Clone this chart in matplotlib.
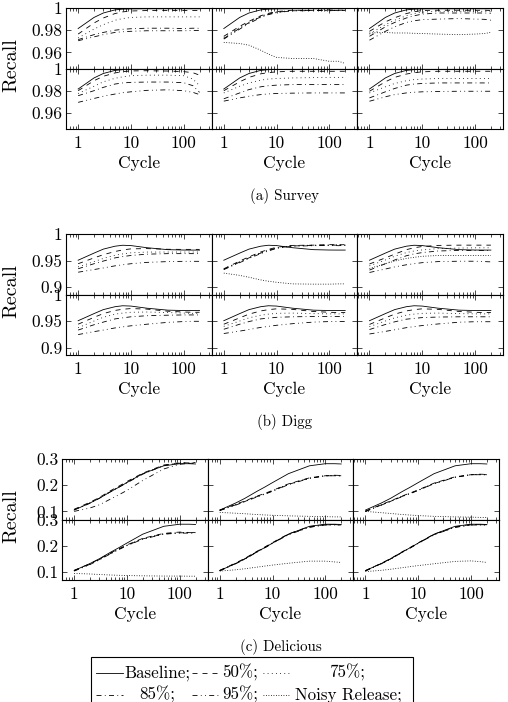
import numpy as np
import matplotlib
matplotlib.use("Agg")
import matplotlib.pyplot as plt
from matplotlib.ticker import FixedLocator, LogLocator, NullFormatter
from matplotlib.lines import Line2D
from matplotlib.patches import Rectangle

plt.rcParams['font.family'] = ['cmr10', 'DejaVu Serif']
plt.rcParams['mathtext.fontset'] = 'cm'
plt.rcParams['axes.formatter.use_mathtext'] = True
plt.rcParams['lines.scale_dashes'] = False

# ---------------- data ----------------
cycles = [1, 2, 3, 5, 7, 10, 20, 50, 100, 150, 200]
series_names = ["Baseline", "50%", "75%", "85%", "95%", "Noisy Release"]
captions = ["(a) Survey", "(b) Digg", "(c) Delicious"]

# panel order: top-left, top-middle, top-right, bottom-left, bottom-middle, bottom-right
survey_baseline = [0.9815, 0.9915, 0.9955, 0.9983, 0.9990, 0.9992, 0.9993, 0.9993, 0.9993, 0.9993, 0.9993]
survey_p50 = [
    [0.9765, 0.9865, 0.9910, 0.9950, 0.9965, 0.9973, 0.9977, 0.9978, 0.9977, 0.9978, 0.9977],
    [0.9745, 0.9835, 0.9880, 0.9930, 0.9952, 0.9968, 0.9980, 0.9977, 0.9982, 0.9979, 0.9981],
    [0.9790, 0.9875, 0.9912, 0.9950, 0.9966, 0.9978, 0.9980, 0.9980, 0.9979, 0.9980, 0.9978],
    [0.9800, 0.9890, 0.9930, 0.9960, 0.9972, 0.9978, 0.9980, 0.9977, 0.9972, 0.9962, 0.9940],
    [0.9800, 0.9880, 0.9920, 0.9952, 0.9963, 0.9970, 0.9975, 0.9975, 0.9975, 0.9975, 0.9975],
    [0.9795, 0.9880, 0.9920, 0.9950, 0.9962, 0.9970, 0.9975, 0.9975, 0.9975, 0.9975, 0.9975],
]
survey_p75 = [
    [0.9730, 0.9810, 0.9850, 0.9890, 0.9905, 0.9915, 0.9920, 0.9920, 0.9920, 0.9920, 0.9920],
    [0.9735, 0.9825, 0.9872, 0.9925, 0.9948, 0.9965, 0.9978, 0.9980, 0.9976, 0.9981, 0.9978],
    [0.9765, 0.9850, 0.9890, 0.9930, 0.9950, 0.9963, 0.9970, 0.9970, 0.9970, 0.9970, 0.9970],
    [0.9775, 0.9840, 0.9880, 0.9912, 0.9925, 0.9935, 0.9940, 0.9940, 0.9935, 0.9905, 0.9845],
    [0.9780, 0.9840, 0.9870, 0.9895, 0.9905, 0.9910, 0.9915, 0.9918, 0.9920, 0.9920, 0.9920],
    [0.9780, 0.9835, 0.9865, 0.9890, 0.9900, 0.9905, 0.9910, 0.9910, 0.9910, 0.9910, 0.9910],
]
survey_p85 = [
    [0.9715, 0.9760, 0.9780, 0.9800, 0.9808, 0.9813, 0.9818, 0.9818, 0.9815, 0.9818, 0.9817],
    [0.9725, 0.9818, 0.9868, 0.9920, 0.9945, 0.9962, 0.9975, 0.9978, 0.9975, 0.9980, 0.9977],
    [0.9745, 0.9830, 0.9870, 0.9910, 0.9930, 0.9945, 0.9955, 0.9955, 0.9955, 0.9955, 0.9953],
    [0.9755, 0.9800, 0.9830, 0.9860, 0.9870, 0.9875, 0.9878, 0.9878, 0.9872, 0.9845, 0.9785],
    [0.9727, 0.9780, 0.9810, 0.9835, 0.9845, 0.9850, 0.9855, 0.9855, 0.9855, 0.9855, 0.9855],
    [0.9735, 0.9790, 0.9820, 0.9850, 0.9860, 0.9865, 0.9870, 0.9870, 0.9870, 0.9870, 0.9870],
]
survey_p95 = [
    [0.9705, 0.9740, 0.9760, 0.9780, 0.9786, 0.9790, 0.9795, 0.9795, 0.9795, 0.9797, 0.9797],
    [0.9720, 0.9810, 0.9860, 0.9915, 0.9940, 0.9958, 0.9975, 0.9976, 0.9979, 0.9976, 0.9979],
    [0.9710, 0.9790, 0.9830, 0.9870, 0.9885, 0.9895, 0.9900, 0.9905, 0.9900, 0.9898, 0.9890],
    [0.9695, 0.9730, 0.9750, 0.9770, 0.9782, 0.9790, 0.9803, 0.9808, 0.9800, 0.9785, 0.9765],
    [0.9706, 0.9735, 0.9750, 0.9765, 0.9771, 0.9775, 0.9778, 0.9780, 0.9780, 0.9780, 0.9780],
    [0.9705, 0.9745, 0.9765, 0.9780, 0.9786, 0.9790, 0.9793, 0.9795, 0.9795, 0.9795, 0.9795],
]
survey_noisy = [
    None,
    [0.9690, 0.9680, 0.9665, 0.9620, 0.9585, 0.9555, 0.9545, 0.9545, 0.9520, 0.9520, 0.9500],
    [0.9775, 0.9780, 0.9775, 0.9775, 0.9772, 0.9770, 0.9765, 0.9760, 0.9765, 0.9770, 0.9780],
    None, None, None,
]

digg_baseline = [0.9506, 0.9640, 0.9715, 0.9770, 0.9788, 0.9782, 0.9742, 0.9705, 0.9698, 0.9697, 0.9697]
digg_p50 = [
    [0.9440, 0.9550, 0.9610, 0.9670, 0.9700, 0.9720, 0.9725, 0.9712, 0.9710, 0.9710, 0.9710],
    [0.9345, 0.9490, 0.9570, 0.9660, 0.9710, 0.9750, 0.9785, 0.9790, 0.9800, 0.9795, 0.9800],
    [0.9435, 0.9550, 0.9620, 0.9705, 0.9740, 0.9765, 0.9785, 0.9790, 0.9790, 0.9790, 0.9790],
    [0.9440, 0.9570, 0.9640, 0.9700, 0.9722, 0.9735, 0.9725, 0.9685, 0.9670, 0.9665, 0.9665],
    [0.9440, 0.9560, 0.9630, 0.9690, 0.9715, 0.9730, 0.9720, 0.9680, 0.9665, 0.9660, 0.9660],
    [0.9436, 0.9560, 0.9630, 0.9690, 0.9715, 0.9730, 0.9720, 0.9680, 0.9665, 0.9660, 0.9660],
]
digg_p75 = [
    [0.9380, 0.9480, 0.9540, 0.9600, 0.9625, 0.9645, 0.9660, 0.9660, 0.9660, 0.9660, 0.9660],
    [0.9340, 0.9480, 0.9560, 0.9650, 0.9700, 0.9740, 0.9780, 0.9790, 0.9790, 0.9795, 0.9790],
    [0.9400, 0.9510, 0.9580, 0.9650, 0.9680, 0.9700, 0.9725, 0.9735, 0.9740, 0.9740, 0.9740],
    [0.9375, 0.9500, 0.9570, 0.9630, 0.9650, 0.9665, 0.9670, 0.9660, 0.9650, 0.9645, 0.9645],
    [0.9400, 0.9500, 0.9560, 0.9610, 0.9630, 0.9645, 0.9650, 0.9640, 0.9635, 0.9635, 0.9635],
    [0.9395, 0.9500, 0.9560, 0.9610, 0.9630, 0.9645, 0.9650, 0.9640, 0.9635, 0.9635, 0.9635],
]
digg_p85 = [
    [0.9345, 0.9440, 0.9490, 0.9550, 0.9575, 0.9595, 0.9620, 0.9630, 0.9630, 0.9630, 0.9630],
    [0.9335, 0.9470, 0.9550, 0.9640, 0.9690, 0.9735, 0.9775, 0.9785, 0.9790, 0.9790, 0.9785],
    [0.9320, 0.9440, 0.9510, 0.9590, 0.9625, 0.9650, 0.9680, 0.9690, 0.9690, 0.9690, 0.9690],
    [0.9330, 0.9430, 0.9480, 0.9540, 0.9560, 0.9580, 0.9600, 0.9610, 0.9615, 0.9615, 0.9615],
    [0.9345, 0.9440, 0.9490, 0.9540, 0.9555, 0.9570, 0.9580, 0.9585, 0.9585, 0.9585, 0.9585],
    [0.9340, 0.9435, 0.9485, 0.9535, 0.9550, 0.9565, 0.9575, 0.9580, 0.9580, 0.9580, 0.9580],
]
digg_p95 = [
    [0.9280, 0.9330, 0.9360, 0.9400, 0.9420, 0.9440, 0.9465, 0.9480, 0.9485, 0.9485, 0.9485],
    [0.9330, 0.9460, 0.9540, 0.9630, 0.9680, 0.9730, 0.9770, 0.9780, 0.9785, 0.9780, 0.9790],
    [0.9275, 0.9340, 0.9380, 0.9420, 0.9440, 0.9460, 0.9480, 0.9487, 0.9487, 0.9480, 0.9475],
    [0.9245, 0.9300, 0.9330, 0.9370, 0.9390, 0.9410, 0.9440, 0.9475, 0.9490, 0.9495, 0.9495],
    [0.9265, 0.9310, 0.9340, 0.9380, 0.9400, 0.9420, 0.9450, 0.9480, 0.9490, 0.9490, 0.9490],
    [0.9256, 0.9305, 0.9335, 0.9375, 0.9395, 0.9415, 0.9445, 0.9478, 0.9487, 0.9487, 0.9487],
]
digg_noisy = [
    None,
    [0.9263, 0.9220, 0.9185, 0.9135, 0.9110, 0.9090, 0.9060, 0.9055, 0.9055, 0.9060, 0.9060],
    [0.9350, 0.9440, 0.9490, 0.9540, 0.9560, 0.9580, 0.9595, 0.9595, 0.9595, 0.9595, 0.9595],
    None, None, None,
]

delicious_baseline = [0.1050, 0.1320, 0.1500, 0.1760, 0.1920, 0.2100, 0.2440, 0.2740, 0.2820, 0.2820, 0.2810]
delicious_p50 = [
    [0.1080, 0.1350, 0.1530, 0.1800, 0.1960, 0.2140, 0.2460, 0.2770, 0.2860, 0.2850, 0.2870],
    [0.1050, 0.1270, 0.1400, 0.1580, 0.1680, 0.1800, 0.2050, 0.2280, 0.2360, 0.2380, 0.2370],
    [0.1010, 0.1260, 0.1400, 0.1590, 0.1700, 0.1820, 0.2080, 0.2320, 0.2400, 0.2420, 0.2410],
    [0.1060, 0.1310, 0.1490, 0.1730, 0.1880, 0.2030, 0.2280, 0.2470, 0.2520, 0.2500, 0.2490],
    [0.1060, 0.1340, 0.1520, 0.1780, 0.1940, 0.2120, 0.2450, 0.2730, 0.2800, 0.2810, 0.2790],
    [0.1050, 0.1330, 0.1510, 0.1770, 0.1930, 0.2110, 0.2440, 0.2720, 0.2810, 0.2800, 0.2800],
]
delicious_p75 = [
    [0.1070, 0.1330, 0.1520, 0.1780, 0.1940, 0.2110, 0.2440, 0.2760, 0.2850, 0.2860, 0.2840],
    [0.1040, 0.1260, 0.1390, 0.1570, 0.1670, 0.1790, 0.2040, 0.2270, 0.2370, 0.2360, 0.2380],
    [0.1005, 0.1250, 0.1390, 0.1580, 0.1690, 0.1810, 0.2070, 0.2310, 0.2410, 0.2400, 0.2420],
    [0.1050, 0.1300, 0.1480, 0.1720, 0.1870, 0.2020, 0.2270, 0.2460, 0.2500, 0.2510, 0.2480],
    [0.1050, 0.1330, 0.1510, 0.1770, 0.1930, 0.2110, 0.2440, 0.2720, 0.2810, 0.2800, 0.2800],
    [0.1045, 0.1320, 0.1500, 0.1760, 0.1920, 0.2100, 0.2430, 0.2710, 0.2800, 0.2810, 0.2790],
]
delicious_p85 = [
    [0.1060, 0.1310, 0.1500, 0.1760, 0.1920, 0.2090, 0.2420, 0.2750, 0.2840, 0.2830, 0.2850],
    [0.1040, 0.1250, 0.1380, 0.1560, 0.1660, 0.1780, 0.2030, 0.2270, 0.2350, 0.2370, 0.2360],
    [0.1000, 0.1245, 0.1385, 0.1575, 0.1685, 0.1805, 0.2065, 0.2305, 0.2395, 0.2410, 0.2400],
    [0.1040, 0.1290, 0.1470, 0.1710, 0.1860, 0.2010, 0.2260, 0.2450, 0.2490, 0.2500, 0.2500],
    [0.1050, 0.1320, 0.1500, 0.1760, 0.1920, 0.2100, 0.2430, 0.2710, 0.2790, 0.2810, 0.2780],
    [0.1040, 0.1315, 0.1495, 0.1755, 0.1915, 0.2095, 0.2425, 0.2705, 0.2795, 0.2800, 0.2800],
]
delicious_p95 = [
    [0.1000, 0.1130, 0.1250, 0.1480, 0.1630, 0.1800, 0.2180, 0.2620, 0.2800, 0.2830, 0.2830],
    [0.1030, 0.1240, 0.1370, 0.1550, 0.1650, 0.1770, 0.2020, 0.2260, 0.2360, 0.2360, 0.2350],
    [0.0995, 0.1240, 0.1380, 0.1570, 0.1680, 0.1800, 0.2060, 0.2300, 0.2400, 0.2400, 0.2390],
    [0.1030, 0.1280, 0.1460, 0.1700, 0.1850, 0.2000, 0.2250, 0.2440, 0.2480, 0.2480, 0.2470],
    [0.1040, 0.1310, 0.1490, 0.1750, 0.1910, 0.2090, 0.2420, 0.2700, 0.2800, 0.2790, 0.2790],
    [0.1035, 0.1310, 0.1490, 0.1750, 0.1910, 0.2090, 0.2420, 0.2700, 0.2790, 0.2790, 0.2790],
]
delicious_noisy = [
    None,
    [0.0960, 0.0930, 0.0910, 0.0880, 0.0865, 0.0850, 0.0830, 0.0810, 0.0800, 0.0790, 0.0790],
    [0.1000, 0.0950, 0.0920, 0.0880, 0.0860, 0.0840, 0.0810, 0.0790, 0.0780, 0.0770, 0.0765],
    [0.0940, 0.0920, 0.0900, 0.0880, 0.0870, 0.0860, 0.0850, 0.0840, 0.0840, 0.0835, 0.0835],
    [0.1030, 0.1080, 0.1120, 0.1180, 0.1220, 0.1260, 0.1330, 0.1410, 0.1410, 0.1380, 0.1360],
    [0.1010, 0.1060, 0.1100, 0.1160, 0.1200, 0.1240, 0.1310, 0.1400, 0.1420, 0.1390, 0.1360],
]

survey_yticks = [0.96, 0.98, 1.0]
survey_yticklabels = ["0.96", "0.98", "1"]
digg_yticks = [0.9, 0.95, 1.0]
digg_yticklabels = ["0.9", "0.95", "1"]
delicious_yticks = [0.1, 0.2, 0.3]
delicious_yticklabels = ["0.1", "0.2", "0.3"]
xticks = [1, 10, 100]
xticklabels = ["1", "10", "100"]

# ---------------- style / layout ----------------
styles = {
    "Baseline": '-',
    "50%": (0, (3.6, 3.6)),
    "75%": (0, (0.6, 2.4)),
    "85%": (0, (3.6, 2.4, 0.6, 2.4)),
    "95%": (0, (3.6, 2.4, 0.6, 2.4, 0.6, 2.4)),
    "Noisy Release": (0, (0.6, 1.2)),
}
LW = 0.6
W, H = 508, 702
FS = 12.5

fig = plt.figure(figsize=(W / 100, H / 100), dpi=100)

groups = [
    dict(caption=captions[0], base=survey_baseline,
         series=[survey_p50, survey_p75, survey_p85, survey_p95, survey_noisy],
         ylim=(0.9455, 1.0), yt=survey_yticks, ytl=survey_yticklabels, x0=66, ytop=8),
    dict(caption=captions[1], base=digg_baseline,
         series=[digg_p50, digg_p75, digg_p85, digg_p95, digg_noisy],
         ylim=(0.886, 1.0), yt=digg_yticks, ytl=digg_yticklabels, x0=66, ytop=234),
    dict(caption=captions[2], base=delicious_baseline,
         series=[delicious_p50, delicious_p75, delicious_p85, delicious_p95, delicious_noisy],
         ylim=(0.069, 0.3), yt=delicious_yticks, ytl=delicious_yticklabels, x0=62, ytop=459),
]
PW, PH = 145.67, 60.5

for g in groups:
    for r in range(2):
        for c in range(3):
            k = r * 3 + c
            left = g['x0'] + c * PW
            top = g['ytop'] + r * PH
            ax = fig.add_axes([left / W, 1 - (top + PH) / H, PW / W, PH / H])
            ax.set_xscale('log')
            ax.plot(cycles, g['base'], color='black', lw=LW, ls=styles["Baseline"])
            for name, arr in zip(series_names[1:], g['series']):
                vals = arr[k]
                if vals is None:
                    continue
                ax.plot(cycles, vals, color='black', lw=LW, ls=styles[name])
            ax.set_xlim(10 ** -0.23, 10 ** 2.531)
            ax.set_ylim(*g['ylim'])
            ax.xaxis.set_major_locator(FixedLocator(xticks))
            ax.xaxis.set_minor_locator(LogLocator(base=10, subs=np.arange(2, 10)))
            ax.xaxis.set_minor_formatter(NullFormatter())
            ax.set_yticks(g['yt'])
            ax.tick_params(which='both', direction='in', top=True, right=True, width=0.5)
            ax.tick_params(which='major', length=3.5)
            ax.tick_params(which='minor', length=2.0)
            ax.tick_params(axis='x', pad=4.5, labelsize=FS)
            ax.tick_params(axis='y', pad=2.5, labelsize=FS)
            for s in ax.spines.values():
                s.set_linewidth(0.8)
            if r == 1:
                ax.set_xticklabels(xticklabels)
                ax.set_xlabel("Cycle", fontsize=FS, labelpad=4)
            else:
                ax.tick_params(axis='x', labelbottom=False)
            if c == 0:
                ax.set_yticklabels(g['ytl'])
            else:
                ax.tick_params(axis='y', labelleft=False)
    gy = g['ytop'] + PH
    fig.text(11 / W, 1 - (gy - 3) / H, "Recall", rotation=90, ha='center', va='center', fontsize=14.5)
    cx = g['x0'] + 1.5 * PW
    fig.text(cx / W, 1 - (g['ytop'] + 2 * PH + 67) / H, g['caption'], ha='center', va='center', fontsize=10.8)

# ---------------- legend ----------------
fig.add_artist(Rectangle((91 / W, 1 - 712 / H), (413 - 91) / W, (712 - 657) / H,
                         transform=fig.transFigure, fill=False, lw=0.8, ec='black'))
leg_cols = [(96, 123, 157.5), (192, 218, 240), (263, 290, 348)]
leg_rows = [(673, 678), (695, 700)]
for i, name in enumerate(series_names):
    r, c = divmod(i, 3)
    lx0, lx1, tx = leg_cols[c]
    ly, by = leg_rows[r]
    fig.add_artist(Line2D([lx0 / W, lx1 / W], [1 - ly / H, 1 - ly / H], transform=fig.transFigure,
                          color='black', lw=LW, ls=styles[name]))
    fig.text(tx / W, 1 - by / H, name + ";", ha='center', va='baseline', fontsize=12.2)

fig.savefig("out.png", dpi=100)
